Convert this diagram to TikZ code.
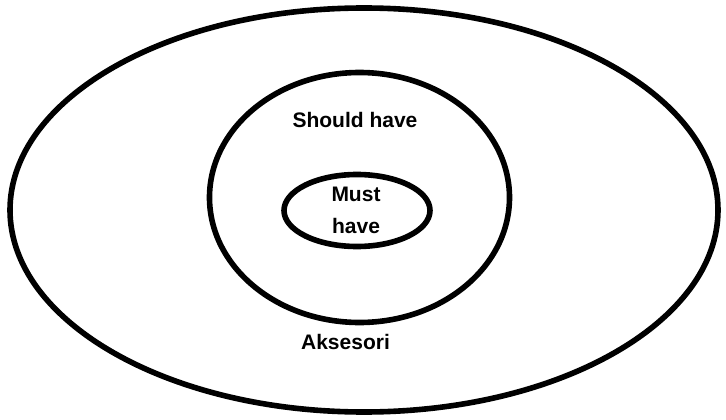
\documentclass[tikz,border=0pt]{standalone}
\usepackage{fontspec}
\setmainfont{Liberation Sans}
\usetikzlibrary{shapes.geometric}

\begin{document}
\begin{tikzpicture}[x=1pt,y=-1pt,line width=5.6pt,
    ring/.style={ellipse,draw,inner sep=0pt,outer sep=0pt},
    label text/.style={inner sep=0pt,font=\bfseries\fontsize{21}{32}\selectfont,align=center}]
            \useasboundingbox (0,0) rectangle (726,420);
            \node[ring, minimum width=708, minimum height=404] (aksesori) at (364,210) {};
            \node[ring, minimum width=300, minimum height=250] (should) at (359.5,197.5) {};
            \node[ring, minimum width=146, minimum height=72] (must) at (357,210.5) {};

            \node[label text, anchor=base] (shouldtext) at (355,127) {Should have};
            \node[label text] (musttext) at (356,210) {Must\\have};
            \node[label text, anchor=base] (aksesoritext) at (345.5,349) {Aksesori};
        \end{tikzpicture}
\end{document}
